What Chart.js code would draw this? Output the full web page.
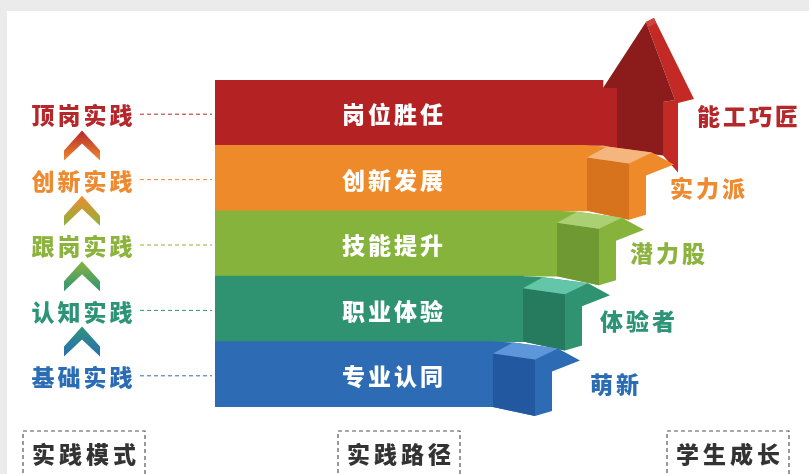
<!DOCTYPE html>
<html><head><meta charset="utf-8">
<script src="https://cdn.jsdelivr.net/npm/chart.js@4"></script>
<style>html,body{margin:0;padding:0;background:#fff;overflow:hidden}canvas{display:block}</style>
</head><body>
<canvas id="c" width="809" height="474"></canvas>
<script>
// ---- data ----
const pathLabels = ['岗位胜任','创新发展','技能提升','职业体验','专业认同'];
const pathValues = [77.6, 74.4, 68.4, 61.6, 55.6];
const modeLabels = ['顶岗实践','创新实践','跟岗实践','认知实践','基础实践'];
const growthLabels = ['能工巧匠','实力派','潜力股','体验者','萌新'];
const footerLabels = ['实践模式','实践路径','学生成长'];

// ---- styles / layout ----
const bandColors  = ['#b42224','#ef8a2b','#86b33b','#2f9271','#2d6cb4'];
const darkColors  = ['#8c1b1b','#d6731c','#6e9933','#267a5e','#22589f'];
const lightColors = ['#c42a25','#f5b57e','#abd073','#63c6a8','#5d97d9'];
const textColors  = ['#b5272a','#ee8a30','#8cb33d','#2e9477','#2a6db5'];
const growthDX = [94, 83, 73, 77, 97];
const growthDY = [4, 10, 10, 12, 10];
const footerX = [84, 399, 728];
const FONT = '900 23px "Noto Sans CJK SC", "Noto Sans", sans-serif';

function spaced(ctx, text, x, y, gap, align) {
  const chars = [...text];
  const widths = chars.map(c => ctx.measureText(c).width);
  const total = widths.reduce((a,b)=>a+b,0) + gap*(chars.length-1);
  let cx = align === 'center' ? x - total/2 : x;
  ctx.textAlign = 'left';
  chars.forEach((c,i)=>{ ctx.fillText(c, cx, y); cx += widths[i] + gap; });
}
function poly(ctx, pts, color) {
  ctx.beginPath();
  pts.forEach((p,i)=> i ? ctx.lineTo(p[0],p[1]) : ctx.moveTo(p[0],p[1]));
  ctx.closePath();
  ctx.fillStyle = color;
  ctx.fill();
}

const deco = {
  id: 'deco',
  beforeDraw(chart) {
    const ctx = chart.ctx;
    ctx.save();
    ctx.fillStyle = '#ffffff';
    ctx.fillRect(0,0,chart.width,chart.height);
    ctx.fillStyle = '#ebebeb';
    ctx.fillRect(0,0,chart.width,11);
    ctx.fillRect(0,0,7,chart.height);
    ctx.restore();
  },
  afterDatasetsDraw(chart) {
    const ctx = chart.ctx;
    const xs = chart.scales.x, ys = chart.scales.y;
    const n = pathLabels.length;
    const h = (ys.bottom - ys.top) / n;
    ctx.save();
    const cys = pathLabels.map((_,i)=> ys.getPixelForValue(i));
    // steps (top to bottom so lower ones overlap)
    for (let i = 0; i < n; i++) {
      const T = cys[i] - h/2, B = cys[i] + h/2;
      const A = xs.getPixelForValue(pathValues[i]);
      if (i === 0) {
        poly(ctx, [[A,T+8],[A+14,T+8],[A+14,B+4],[A,B]], bandColors[i]);
        poly(ctx, [[A+43,T-58],[A+51,T-62],[A+91,T+19],[A+75,T+23],[A+75,B+27],[A+60,B+10],[A+60,T+22],[A+72,T+20]], lightColors[i]);
        poly(ctx, [[A,T+8],[A+43,T-58],[A+72,T+20],[A+60,T+22],[A+60,B+10],[A+14,B+4],[A+14,T+8]], darkColors[i]);
        poly(ctx, [[A+43,T-58],[A+51,T-62],[A+53,T-57],[A+46,T-53]], '#d0433a');
      } else {
        poly(ctx, [[A,T],[A+20,T+1],[A+65,T+7],[A+87,T+19],[A+59,T+30],[A+59,B+4],[A+42,B+9],[A,B]], bandColors[i]);
        poly(ctx, [[A,T+12],[A+42,T+18],[A+42,B+9],[A,B]], darkColors[i]);
        poly(ctx, [[A,T+12],[A+20,T+1],[A+65,T+7],[A+42,T+18]], lightColors[i]);
      }
    }
    ctx.font = FONT;
    ctx.textBaseline = 'middle';
    // band texts
    ctx.fillStyle = '#ffffff';
    pathLabels.forEach((t,i)=> spaced(ctx, t, xs.getPixelForValue(35.5), cys[i]+2, 3, 'center'));
    // left labels + dashed leaders
    modeLabels.forEach((t,i)=>{
      ctx.fillStyle = textColors[i];
      spaced(ctx, t, 82, cys[i]+3, 3, 'center');
      ctx.strokeStyle = textColors[i];
      ctx.lineWidth = 1;
      ctx.setLineDash([4,3]);
      ctx.beginPath(); ctx.moveTo(140, cys[i]+1.5); ctx.lineTo(212, cys[i]+1.5); ctx.stroke();
      ctx.setLineDash([]);
    });
    // chevrons
    for (let i = 0; i < n-1; i++) {
      const ay = (cys[i]+cys[i+1])/2 - 15;
      const g = ctx.createLinearGradient(0, ay, 0, ay+30);
      g.addColorStop(0, textColors[i]);
      g.addColorStop(1, textColors[i+1]);
      poly(ctx, [[82,ay],[100,ay+20],[100,ay+30],[82,ay+13],[64,ay+30],[64,ay+20]], g);
    }
    // right labels
    growthLabels.forEach((t,i)=>{
      const A = xs.getPixelForValue(pathValues[i]);
      ctx.fillStyle = textColors[i];
      spaced(ctx, t, A + growthDX[i], cys[i] + growthDY[i], 3, 'left');
    });
    // footer boxes
    footerLabels.forEach((t,i)=>{
      const cx = footerX[i];
      ctx.strokeStyle = '#555';
      ctx.lineWidth = 1.2;
      ctx.setLineDash([4,3]);
      ctx.strokeRect(cx-61, 431, 122, 60);
      ctx.setLineDash([]);
      ctx.fillStyle = '#333333';
      spaced(ctx, t, cx, 454, 4, 'center');
    });
    ctx.restore();
  }
};

new Chart(document.getElementById('c'), {
  type: 'bar',
  data: {
    labels: pathLabels,
    datasets: [{
      data: pathValues,
      backgroundColor: bandColors,
      borderWidth: 0,
      barPercentage: 1,
      categoryPercentage: 1
    }]
  },
  options: {
    indexAxis: 'y',
    responsive: false,
    animation: false,
    devicePixelRatio: 1,
    layout: { padding: { left: 215, right: 94, top: 80, bottom: 67 } },
    scales: {
      x: { display: false, min: 0, max: 100 },
      y: { display: false }
    },
    plugins: { legend: { display: false }, tooltip: { enabled: false } }
  },
  plugins: [deco]
});
</script>
</body></html>
